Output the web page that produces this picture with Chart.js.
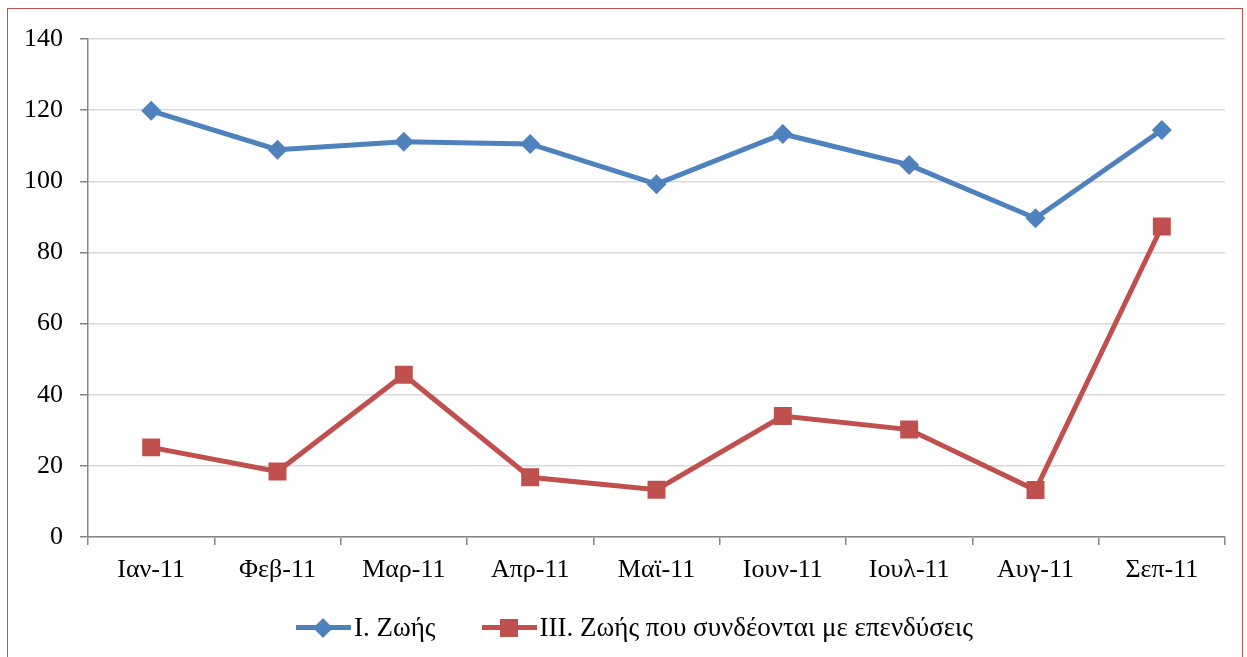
<!DOCTYPE html>
<html>
<head>
<meta charset="utf-8">
<script src="https://cdn.jsdelivr.net/npm/chart.js@4/dist/chart.umd.min.js"></script>
<style>
    html, body { margin: 0; padding: 0; background: #fff; }
    #wrap { position: relative; width: 1247px; height: 657px; overflow: hidden; }
    #frame { position: absolute; left: 7px; top: 8px; width: 1236px; height: 700px; border: 1.5px solid #C0504D; box-sizing: border-box; pointer-events: none; }
    #legend { position: absolute; left: 0; top: 612px; width: 1247px; display: flex; justify-content: center; align-items: center;
        font-family: "Liberation Serif", "Times New Roman", serif; font-size: 27px; color: #000; padding-left: 22px; box-sizing: border-box; }
    .item { display: flex; align-items: center; margin: 0 23px; }
    .key { position: relative; width: 55px; height: 5px; margin-right: 3px; }
    .key i { position: absolute; left: 50%; top: 50%; }
    .k1 { background: #4F81BD; }
    .k1 i { width: 14px; height: 14px; background: #4F81BD; transform: translate(-50%, -50%) rotate(45deg); }
    .k2 { background: #C0504D; }
    .k2 i { width: 18px; height: 18px; background: #C0504D; transform: translate(-50%, -50%); }
</style>
</head>
<body>
<div id="wrap">
    <canvas id="chart" width="1247" height="657"></canvas>
    <div id="frame"></div>
    <div id="legend"></div>
</div>
<script>
// Μήνες
const months = ['Ιαν-11', 'Φεβ-11', 'Μαρ-11', 'Απρ-11', 'Μαϊ-11', 'Ιουν-11', 'Ιουλ-11', 'Αυγ-11', 'Σεπ-11'];
// Ι. Ζωής
const lifeValues = [119.8, 108.9, 111.1, 110.5, 99.2, 113.3, 104.6, 89.6, 114.4];
// ΙΙΙ. Ζωής που συνδέονται με επενδύσεις
const unitLinkedValues = [25.2, 18.4, 45.6, 16.8, 13.3, 34.0, 30.2, 13.2, 87.3];
const seriesNames = ['Ι. Ζωής', 'ΙΙΙ. Ζωής που συνδέονται με επενδύσεις'];

const serif = '"Liberation Serif", "Times New Roman", serif';

const ctx = document.getElementById('chart');
new Chart(ctx, {
    type: 'line',
    data: {
        labels: months,
        datasets: [
            {
                label: seriesNames[0],
                data: lifeValues,
                borderColor: '#4F81BD',
                backgroundColor: '#4F81BD',
                borderWidth: 5,
                pointStyle: 'rectRot',
                pointRadius: 10,
                pointBorderWidth: 0,
                tension: 0
            },
            {
                label: seriesNames[1],
                data: unitLinkedValues,
                borderColor: '#C0504D',
                backgroundColor: '#C0504D',
                borderWidth: 5,
                pointStyle: 'rect',
                pointRadius: 12.7,
                pointBorderWidth: 0,
                tension: 0
            }
        ]
    },
    options: {
        responsive: false,
        animation: false,
        layout: { padding: { left: 0, right: 22, top: 39, bottom: 0 } },
        plugins: { legend: { display: false }, tooltip: { enabled: false } },
        scales: {
            x: {
                offset: true,
                grid: { offset: true, drawOnChartArea: false, drawTicks: true, tickLength: 8, color: '#868686', lineWidth: 1.5 },
                border: { color: '#868686', width: 1.5 },
                ticks: { color: '#000', font: { family: serif, size: 26 }, padding: 10 },
                afterFit: function(scale) { scale.height = 120; }
            },
            y: {
                min: 0,
                max: 140,
                ticks: { stepSize: 20, color: '#000', font: { family: serif, size: 26 }, padding: 17 },
                grid: { color: '#D9D9D9', lineWidth: 1.5, tickLength: 8, tickColor: '#868686' },
                border: { color: '#868686', width: 1.5 },
                afterFit: function(scale) { scale.width = 88; }
            }
        }
    }
});

// Υπόμνημα
const legend = document.getElementById('legend');
seriesNames.forEach(function(name, i) {
    const item = document.createElement('div');
    item.className = 'item';
    item.innerHTML = '<span class="key k' + (i + 1) + '"><i></i></span><span>' + name + '</span>';
    legend.appendChild(item);
});
</script>
</body>
</html>
